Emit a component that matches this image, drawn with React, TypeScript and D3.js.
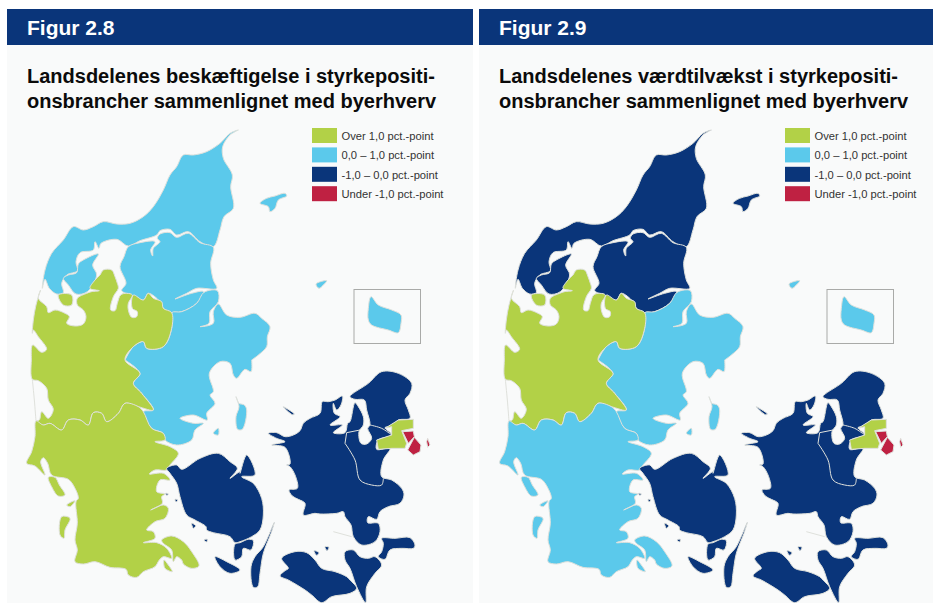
import * as d3 from "d3";

type Pt = [number, number];

// outlines are traced at 3x from four sheets of the page, then brought back to page pixels
const sheet = (ox: number, oy: number) => (pts: number[][]): Pt[] =>
  pts.map(([x, y]) => [ox + x / 3, oy + y / 3]);
const nw = sheet(0, 120);
const sw = sheet(0, 360);
const se = sheet(235, 360);
const ne = sheet(235, 120);

const nordjylland: Pt[][] = [
  nw([[715,30],[690,40],[660,70],[620,95],[580,105],[550,105],[530,140],[510,165],[490,210],[460,260],[430,290],[390,310],[350,312],[310,305],[280,320],[250,330],[220,320],[190,360],[155,400],[135,450],[127,505],[135,478],[148,505],[170,522],[190,518],[185,490],[200,465],[232,452],[228,425],[240,398],[280,390],[285,365],[297,385],[303,370],[350,358],[385,378],[420,362],[470,345],[480,332],[510,328],[530,345],[565,335],[600,365],[640,380],[660,330],[672,290],[700,265],[692,200],[697,165],[670,115],[668,80],[690,45]]),
  nw([[385,380],[372,410],[360,440],[378,490],[365,512],[395,525],[430,540],[445,520],[480,545],[490,565],[515,578],[545,575],[590,550],[610,515],[575,520],[525,537],[560,520],[590,505],[650,505],[640,480],[632,430],[640,382],[600,368],[565,340],[530,352],[510,338],[480,342],[472,355],[480,365],[460,385],[458,408],[452,390],[465,365],[420,368]]),
  nw([[235,432],[250,420],[295,402],[278,435],[290,465],[262,515],[228,522],[205,495],[190,475],[205,465],[230,458]]),
  ne([[75,250],[95,235],[120,228],[150,220],[155,228],[130,240],[120,265],[105,275],[100,260]]),
];

const oestjylland: Pt[][] = [
  [
    ...nw([[515,578],[545,575],[590,550],[612,517],[652,512],[655,545],[630,575],[627,610],[600,620],[640,610],[640,575],[655,552],[680,585],[720,592]]),
    ...ne([[60,580],[80,595],[105,620],[97,650],[95,680],[70,705],[50,720]]),
    ...se([[50,0],[48,35],[30,28],[5,55]]),
    ...sw([[700,45],[690,10],[660,5],[628,40],[640,95],[630,105],[645,130],[620,160],[622,180],[580,165],[540,175],[580,190],[610,190],[585,210],[575,240],[530,255],[495,240],[490,220],[455,205],[430,155],[460,150],[425,100],[400,70],[420,40],[375,0]]),
    ...nw([[375,720],[400,680],[430,665],[440,685],[490,680],[515,625]]),
  ],
  se([[3,110],[12,130],[28,135],[35,150],[22,208],[8,208],[3,170],[12,140]]),
  ne([[243,492],[275,482],[265,495],[252,505]]),
  sw([[655,205],[640,220],[655,225]]),
];

const vestjylland: Pt[][] = [
  [
    ...nw([[122,510],[115,535],[140,560],[145,578],[165,570],[195,580],[208,590],[200,610],[225,618],[250,612],[258,590],[250,570],[232,555],[232,535],[260,520],[275,515],[298,512],[270,505],[285,480],[300,465],[310,450],[335,450],[345,470],[352,490],[355,505],[340,530],[332,570],[345,572],[352,550],[362,525],[380,520],[397,525],[385,550],[385,570],[395,592],[410,590],[412,575],[397,565],[400,525],[430,540],[445,520],[460,535],[485,545],[490,565],[515,578],[515,625],[490,680],[440,685],[430,665],[400,680],[375,720]]),
    ...sw([[420,40],[400,70],[425,100],[460,150],[415,140],[375,130],[355,160],[320,185],[305,160],[280,158],[265,195],[240,180],[205,180],[185,210],[150,190],[130,195],[108,183],[118,180],[125,155],[145,175],[160,148],[145,120],[140,85],[115,62],[97,58],[94,0]]),
    ...nw([[98,675],[125,697],[140,688],[115,650],[100,630],[97,640],[100,600],[108,555]]),
  ],
  nw([[175,525],[215,525],[215,555],[190,555]]),
];

const sydjylland: Pt[][] = [
  sw([[108,183],[130,195],[150,190],[185,210],[205,180],[240,180],[265,195],[280,158],[305,160],[320,185],[355,160],[375,130],[415,140],[430,155],[455,205],[490,220],[495,240],[465,245],[510,260],[535,280],[510,315],[500,330],[465,330],[448,342],[490,340],[510,360],[480,360],[470,395],[495,402],[485,410],[487,430],[452,450],[490,435],[505,445],[495,475],[465,485],[440,510],[460,515],[465,535],[430,548],[470,548],[500,565],[515,595],[490,590],[478,600],[465,620],[430,635],[410,652],[385,645],[378,628],[330,622],[285,605],[250,612],[225,605],[232,570],[225,540],[232,490],[228,425],[235,415],[225,385],[205,358],[155,345],[143,310],[130,293],[122,305],[135,345],[105,318],[80,310],[95,275],[105,230]]),
  sw([[485,540],[515,528],[550,545],[575,575],[597,618],[575,625],[550,612],[545,600],[530,590],[520,605],[515,570],[490,550]]),
  sw([[145,352],[165,352],[178,375],[195,405],[175,408],[155,380]]),
  sw([[200,435],[225,422],[210,440]]),
  sw([[185,470],[210,475],[195,510],[192,535],[180,525]]),
  sw([[492,600],[505,615],[517,635],[495,625]]),
];

const fyn: Pt[][] = [
  [
    ...sw([[500,325],[530,315],[545,328],[600,295],[655,280],[690,305],[712,325],[690,355],[720,335]]),
    ...se([[15,340],[35,285],[60,345],[20,350],[55,370],[80,415],[85,465],[75,510],[50,530],[15,545],[0,548]]),
    ...sw([[690,530],[640,518],[620,510],[618,500],[585,480],[560,465],[540,410],[530,370],[510,340]]),
  ],
  se([[118,487],[108,520],[85,580],[75,640],[68,680],[55,682],[48,620],[60,590],[85,560]]),
  sw([[645,590],[680,605],[720,630],[690,640],[660,620]]),
  se([[0,552],[15,548],[40,538],[55,542],[48,570],[25,565],[20,590],[0,600]]),
  sw([[575,490],[587,497],[580,505]]),
  sw([[497,400],[505,402],[500,406]]),
  sw([[525,418],[533,420],[528,426]]),
  sw([[612,540],[622,538],[620,546]]),
];

const sjaelland: Pt[][] = [
  se([[100,220],[125,218],[150,230],[175,225],[195,212],[205,190],[225,175],[255,160],[262,125],[280,125],[300,120],[322,108],[318,135],[305,150],[295,130],[298,160],[315,170],[285,195],[322,195],[295,218],[330,218],[338,190],[345,185],[360,128],[370,140],[385,170],[385,195],[372,215],[378,250],[395,252],[410,235],[398,205],[405,195],[395,150],[388,120],[360,118],[345,110],[400,70],[440,35],[490,40],[530,70],[525,100],[510,120],[520,150],[525,175],[490,180],[470,198],[450,203],[470,225],[430,240],[425,268],[465,265],[445,300],[440,350],[470,360],[500,385],[507,405],[495,430],[460,440],[435,455],[425,478],[400,470],[398,488],[430,490],[435,515],[420,545],[380,555],[355,530],[348,495],[330,470],[325,455],[305,460],[255,462],[240,460],[205,465],[210,430],[190,418],[172,408],[162,390],[187,385],[182,350],[165,320],[155,315],[165,312],[150,262],[110,255],[150,245],[125,235]]),
  se([[440,535],[480,535],[525,533],[540,555],[535,565],[500,565],[465,570],[450,598],[430,590],[440,575],[445,550]]),
  se([[330,575],[355,570],[375,590],[400,595],[420,590],[440,615],[420,640],[395,680],[392,728],[365,680],[345,625],[330,600]]),
  se([[140,595],[180,575],[215,578],[240,600],[260,625],[300,635],[335,650],[345,660],[365,685],[345,700],[290,710],[260,728],[230,705],[210,690],[160,660],[135,648],[150,632],[160,625]]),
  se([[145,140],[178,162],[172,164]]),
  se([[237,572],[252,578],[245,586]]),
  se([[270,560],[282,562],[276,572]]),
];

const koebenhavnsOmegn: Pt[][] = [
  se([[490,180],[535,178],[535,205],[500,212],[515,250],[510,265],[470,265],[430,268],[425,240],[470,225],[470,200],[450,205]]),
];

const byenKoebenhavn: Pt[][] = [
  se([[503,215],[535,213],[538,230],[520,250]]),
  se([[538,232],[558,255],[555,275],[535,285],[518,270]]),
  se([[578,235],[585,255],[578,262],[575,245]]),
];

const bornholm: Pt[][] = [
  ne([[408,530],[430,555],[470,570],[498,585],[498,610],[490,638],[460,630],[410,615],[400,600],[400,565]]),
];

const regionNames = [
  "Nordjylland",
  "Østjylland",
  "Vestjylland",
  "Sydjylland",
  "Fyn",
  "Sjælland",
  "Københavns omegn",
  "Byen København",
  "Bornholm",
];
const regionShapes = [
  nordjylland,
  oestjylland,
  vestjylland,
  sydjylland,
  fyn,
  sjaelland,
  koebenhavnsOmegn,
  byenKoebenhavn,
  bornholm,
];

// the capital is so small that smoothing eats its corners
const angularRegions = ["Københavns omegn", "Byen København"];

// landsdel borders and thin spits that are only drawn as a line
const borderLines: Pt[][] = [
  se([[330,250],[360,300],[375,360],[410,375],[440,375],[445,355]]),
  se([[330,250],[335,218]]),
  se([[335,218],[375,210]]),
  se([[405,195],[440,205],[470,225]]),
  se([[295,515],[350,530]]),
  sw([[97,58],[103,120],[108,183]]),
];

const legendLabels = [
  "Over 1,0 pct.-point",
  "0,0 – 1,0 pct.-point",
  "-1,0 – 0,0 pct.-point",
  "Under -1,0 pct.-point",
];
const legendColors = ["#b2d147", "#5bc9eb", "#0a357a", "#bf2142"];

// class per region, index into legendLabels, same order as regionNames
const employmentClass = [1, 1, 0, 0, 2, 2, 0, 3, 1];
const valueAddedClass = [2, 1, 0, 1, 2, 2, 0, 3, 1];

const figures = [
  {
    number: "Figur 2.8",
    title: ["Landsdelenes beskæftigelse i styrkepositi-", "onsbrancher sammenlignet med byerhverv"],
    classes: employmentClass,
    panelX: 7,
    panelW: 466,
    dx: 0,
  },
  {
    number: "Figur 2.9",
    title: ["Landsdelenes værdtilvækst i styrkepositi-", "onsbrancher sammenlignet med byerhverv"],
    classes: valueAddedClass,
    panelX: 479,
    panelW: 454,
    dx: 473,
  },
];

const color = d3.scaleOrdinal<number, string>().domain([0, 1, 2, 3]).range(legendColors);
const legendY = d3.scaleLinear().domain([0, 1]).range([128, 147.4]);
const coast = d3.line<Pt>().curve(d3.curveCatmullRomClosed.alpha(0.5));
const angular = d3.line<Pt>().curve(d3.curveLinearClosed);
const borderPath = d3.line<Pt>().curve(d3.curveCatmullRom.alpha(0.5));
const navy = "#0a357a";
const font = '"Liberation Sans", Arial, sans-serif';

function Map({ classes }: { classes: number[] }) {
  return (
    <g stroke="#dfe1dc" strokeWidth={1} strokeLinejoin="round">
      {regionNames.map((name, i) =>
        regionShapes[i].map((ring, j) => (
          <path
            key={name + j}
            d={(angularRegions.includes(name) ? angular(ring) : coast(ring)) ?? ""}
            fill={color(classes[i])}
          />
        )),
      )}
      {borderLines.map((line, i) => (
        <path key={i} d={borderPath(line) ?? ""} fill="none" />
      ))}
    </g>
  );
}

function App() {
  return (
    <svg
      width={933}
      height={603}
      fontFamily={font}
      style={{ position: "absolute", left: 0, top: 0, display: "block" }}
    >
      <rect width={933} height={603} fill="#fff" />
      {figures.map((f) => (
        <g key={f.number}>
          <rect x={f.panelX} y={45} width={f.panelW} height={558} fill="#f9fafa" />
          <rect x={f.panelX} y={9} width={f.panelW} height={36} fill={navy} />
          <g transform={`translate(${f.dx},0)`}>
            <text x={f.dx ? 26 : 27} y={35} fontSize={21} fontWeight={700} fill="#fff">
              {f.number}
            </text>
            {f.title.map((line, i) => (
              <text
                key={line}
                x={f.dx ? 26 : 27}
                y={83 + i * 25}
                fontSize={20}
                fontWeight={700}
                fill="#0b0b0b"
              >
                {line}
              </text>
            ))}
            <Map classes={f.classes} />
            <rect x={354} y={289.5} width={66.5} height={54} fill="none" stroke="#a9aaa8" />
            {legendLabels.map((label, i) => (
              <g key={label}>
                <rect x={312} y={legendY(i)} width={25} height={15} fill={legendColors[i]} />
                <text x={341.5} y={legendY(i) + 12} fontSize={11.2} fill="#333">
                  {label}
                </text>
              </g>
            ))}
          </g>
        </g>
      ))}
    </svg>
  );
}

export default App;
